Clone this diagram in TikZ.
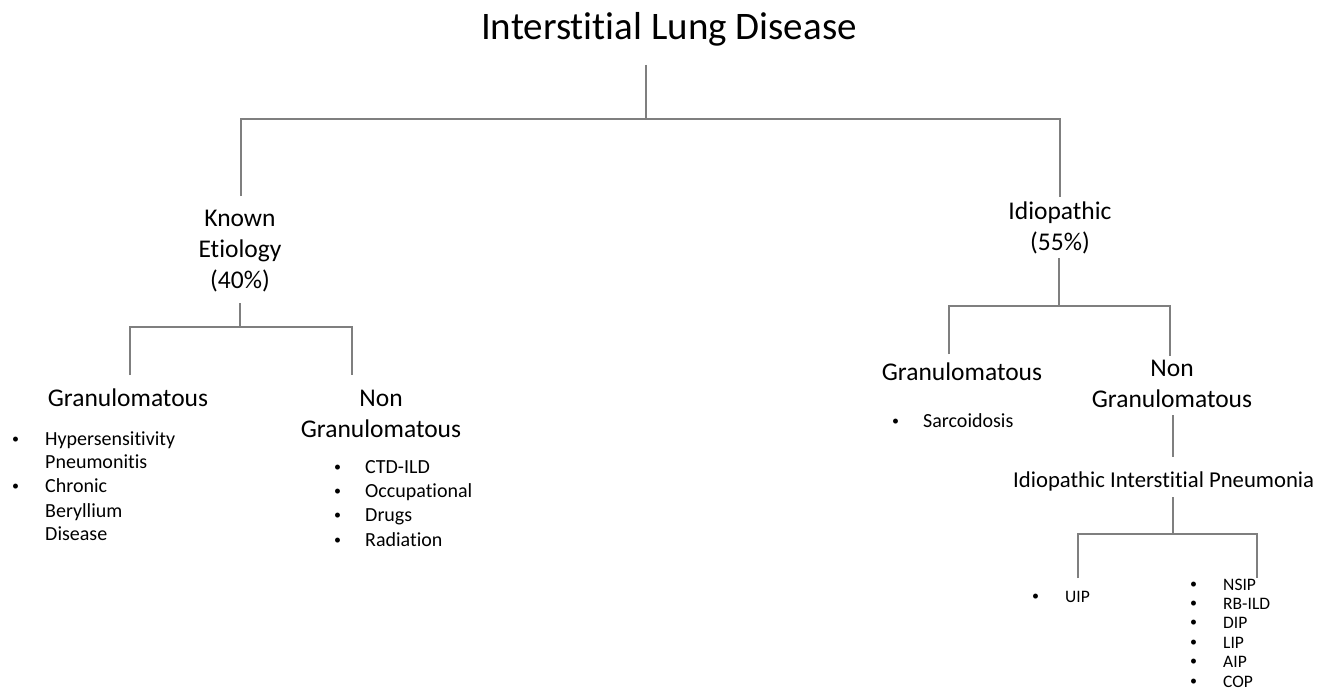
\documentclass[tikz,border=0pt]{standalone}
\usepackage{fontspec}
\setmainfont{Carlito}[Ligatures=NoCommon]
\definecolor{linegray}{HTML}{7F7F7F}
\begin{document}
\begin{tikzpicture}[x=1pt,y=-1pt,
  conn/.style={draw=linegray,line width=1.1pt},
  titletext/.style={font=\fontsize{39}{47}\selectfont,inner sep=0pt,anchor=base},
  midtext/.style={font=\fontsize{25.5}{31}\selectfont,inner sep=0pt,anchor=base,align=center},
  subtext/.style={font=\fontsize{22.7}{27}\selectfont,inner sep=0pt,anchor=base west},
  itemtext/.style={font=\fontsize{20}{24}\selectfont,inner sep=0pt,anchor=base west},
  smalltext/.style={font=\fontsize{17.5}{20}\selectfont,inner sep=0pt,anchor=base west},
  bulletmark/.style={font=\fontsize{14}{14}\selectfont,inner sep=0pt,anchor=base west}]
\useasboundingbox[fill=white] (0,0) rectangle (1322,693);

% nodes
\node[titletext] (title) at (669,40) {Interstitial Lung Disease};
\node[midtext] (known) at (240,288) {Known\\Etiology\\(40\%)};
\node[midtext] (idio) at (1060,250) {Idiopathic\\(55\%)};
\node[midtext] (granL) at (128,406) {Granulomatous};
\node[midtext] (nongranL) at (381,437) {Non\\Granulomatous};
\node[midtext] (granR) at (962,380) {Granulomatous};
\node[midtext] (nongranR) at (1172,407) {Non\\Granulomatous};
\node[subtext] (iip) at (1013,487) {Idiopathic Interstitial Pneumonia};

% left granulomatous list
\node[bulletmark] (bl1) at (12,443) {•};
\node[itemtext] (hp1) at (45,445) {Hypersensitivity};
\node[itemtext] (hp2) at (45,468) {Pneumonitis};
\node[bulletmark] (bl2) at (12,490) {•};
\node[itemtext] (cb1) at (45,492) {Chronic};
\node[itemtext] (cb2) at (45,517) {Beryllium};
\node[itemtext] (cb3) at (45,540) {Disease};

% left non-granulomatous list
\foreach \t/\yy [count=\i] in {CTD-ILD/473,Occupational/497,Drugs/521,Radiation/546}{
  \node[bulletmark] (nb\i) at (334,\yy-2) {•};
  \node[itemtext] (nt\i) at (365,\yy) {\t};
}

% sarcoidosis
\node[bulletmark] (sb) at (892,425) {•};
\node[itemtext] (sarc) at (923,427) {Sarcoidosis};

% UIP
\node[bulletmark] (ub) at (1032,600) {•};
\node[smalltext] (uip) at (1065,602) {UIP};

% right list
\foreach \t/\yy [count=\i] in {NSIP/590,RB-ILD/609,DIP/628,LIP/648,AIP/667,COP/687}{
  \node[bulletmark] (rb\i) at (1190,\yy-2) {•};
  \node[smalltext] (rt\i) at (1223,\yy) {\t};
}

% connector coordinates
\coordinate (t0) at (646,65);
\coordinate (t1) at (646,119);
\coordinate (hL) at (241,119);
\coordinate (hR) at (1060,119);
\coordinate (kTop) at (241,196);
\coordinate (iTop) at (1060,197);

\coordinate (k0) at (240,303);
\coordinate (k1) at (240,327);
\coordinate (kL) at (130,327);
\coordinate (kR) at (352,327);
\coordinate (kLb) at (130,375);
\coordinate (kRb) at (352,375);

\coordinate (i0) at (1059,258);
\coordinate (i1) at (1059,306);
\coordinate (iL) at (949,306);
\coordinate (iR) at (1170,306);
\coordinate (iLb) at (949,354);
\coordinate (iRb) at (1170,356);

\coordinate (n0) at (1173,415);
\coordinate (n1) at (1173,457);

\coordinate (p0) at (1173,497);
\coordinate (p1) at (1173,534);
\coordinate (pL) at (1078,534);
\coordinate (pR) at (1257,534);
\coordinate (pLb) at (1078,578);
\coordinate (pRb) at (1257,578);

% connectors
\draw[conn] (t0) -- (t1);
\draw[conn] (kTop) -- (hL) -- (hR) -- (iTop);
\draw[conn] (k0) -- (k1);
\draw[conn] (kLb) -- (kL) -- (kR) -- (kRb);
\draw[conn] (i0) -- (i1);
\draw[conn] (iLb) -- (iL) -- (iR) -- (iRb);
\draw[conn] (n0) -- (n1);
\draw[conn] (p0) -- (p1);
\draw[conn] (pLb) -- (pL) -- (pR) -- (pRb);
\end{tikzpicture}
\end{document}
